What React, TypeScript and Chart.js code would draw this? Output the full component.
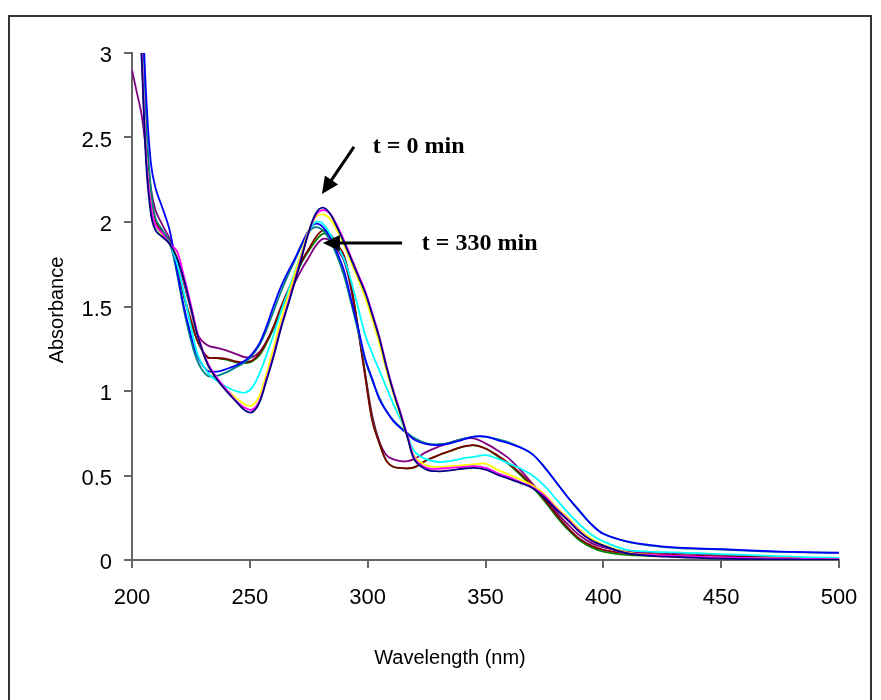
import React, { useEffect, useRef } from 'react';
import { Chart, registerables } from 'chart.js';
Chart.register(...registerables);

// Wavelength grid (nm)
const wavelengths = [200,202,204,206,208,210,213,216,219,222,
  225,228,232,236,240,244,248,251,254,257,
  260,263,266,269,272,275,278,281,284,287,
  290,293,296,299,302,305,308,311,314,317,
  320,325,330,335,340,345,350,355,360,365,
  370,375,380,385,390,395,400,410,420,430,
  440,450,460,470,480,490,500];

const navy = [4.2,3.6,3.0,2.35,2.05,1.95,1.91,1.87,1.79,1.66,
  1.49,1.32,1.16,1.07,1.0,0.94,0.885,0.875,0.93,1.06,
  1.2,1.36,1.5,1.64,1.79,1.94,2.05,2.085,2.05,1.97,
  1.88,1.78,1.68,1.58,1.45,1.31,1.14,0.99,0.86,0.72,
  0.59,0.535,0.525,0.53,0.54,0.545,0.535,0.505,0.48,0.455,
  0.425,0.37,0.3,0.235,0.165,0.115,0.085,0.04,0.025,0.018,
  0.012,0.008,0.005,0.004,0.003,0.002,0.002];

const magenta = [4.2,3.6,3.05,2.4,2.1,1.98,1.93,1.87,1.83,1.68,
  1.51,1.33,1.17,1.08,1.01,0.945,0.9,0.89,0.94,1.07,
  1.21,1.37,1.51,1.65,1.8,1.94,2.04,2.07,2.05,1.98,
  1.89,1.79,1.69,1.59,1.46,1.32,1.15,1.0,0.87,0.73,
  0.6,0.545,0.54,0.545,0.55,0.555,0.545,0.515,0.49,0.46,
  0.43,0.38,0.305,0.24,0.17,0.115,0.085,0.04,0.03,0.025,
  0.02,0.015,0.012,0.01,0.008,0.006,0.005];

const yellow = [4.2,3.6,3.05,2.4,2.1,1.98,1.92,1.87,1.8,1.66,
  1.49,1.32,1.16,1.07,1.01,0.96,0.92,0.915,0.97,1.1,
  1.25,1.41,1.55,1.69,1.82,1.95,2.03,2.045,2.02,1.95,
  1.86,1.76,1.66,1.55,1.42,1.28,1.12,0.98,0.85,0.72,
  0.61,0.56,0.55,0.555,0.56,0.565,0.57,0.535,0.505,0.475,
  0.44,0.39,0.315,0.25,0.18,0.125,0.09,0.045,0.03,0.022,
  0.018,0.014,0.012,0.01,0.008,0.006,0.005];

const cyan = [4.2,3.6,3.05,2.4,2.08,1.97,1.92,1.87,1.76,1.58,
  1.38,1.21,1.11,1.06,1.025,1.0,0.99,1.02,1.1,1.21,
  1.33,1.46,1.58,1.7,1.82,1.94,2.0,1.99,1.93,1.86,
  1.78,1.65,1.49,1.33,1.22,1.12,1.02,0.92,0.83,0.73,
  0.64,0.595,0.58,0.585,0.6,0.61,0.62,0.6,0.57,0.54,
  0.5,0.44,0.36,0.28,0.21,0.15,0.11,0.06,0.05,0.045,
  0.04,0.035,0.03,0.025,0.02,0.015,0.012];

const blue = [4.5,3.9,3.4,2.75,2.35,2.2,2.08,1.95,1.72,1.5,
  1.33,1.2,1.12,1.115,1.13,1.15,1.18,1.22,1.28,1.38,
  1.5,1.61,1.7,1.78,1.87,1.95,1.99,1.97,1.91,1.82,
  1.71,1.54,1.37,1.19,1.07,0.95,0.88,0.82,0.78,0.745,
  0.71,0.685,0.68,0.69,0.71,0.73,0.73,0.71,0.69,0.665,
  0.625,0.55,0.46,0.37,0.29,0.21,0.155,0.11,0.088,0.075,
  0.068,0.064,0.058,0.052,0.048,0.045,0.043];

const teal = [4.5,3.8,3.3,2.6,2.2,2.02,1.95,1.88,1.7,1.48,
  1.3,1.17,1.09,1.09,1.11,1.14,1.17,1.21,1.27,1.36,
  1.47,1.58,1.68,1.77,1.86,1.94,1.97,1.95,1.89,1.8,
  1.68,1.52,1.35,1.18,1.06,0.96,0.88,0.825,0.785,0.75,
  0.72,0.69,0.685,0.695,0.715,0.73,0.73,0.715,0.695,0.665,
  0.625,0.55,0.46,0.37,0.285,0.21,0.155,0.108,0.085,0.072,
  0.066,0.062,0.056,0.05,0.047,0.044,0.042];

const maroon = [4.2,3.6,3.05,2.4,2.1,2.0,1.94,1.88,1.75,1.57,
  1.42,1.29,1.2,1.195,1.19,1.175,1.17,1.18,1.22,1.29,
  1.38,1.49,1.59,1.68,1.77,1.84,1.91,1.95,1.93,1.87,
  1.8,1.62,1.36,1.08,0.82,0.69,0.585,0.55,0.545,0.542,
  0.55,0.59,0.62,0.645,0.67,0.68,0.66,0.62,0.57,0.51,
  0.44,0.36,0.27,0.19,0.125,0.085,0.06,0.04,0.035,0.03,
  0.025,0.022,0.02,0.017,0.014,0.012,0.01];

const green = [4.3,3.7,3.1,2.45,2.12,2.0,1.93,1.87,1.74,1.56,
  1.41,1.29,1.2,1.195,1.185,1.17,1.165,1.175,1.21,1.28,
  1.37,1.48,1.58,1.67,1.76,1.83,1.89,1.93,1.92,1.86,
  1.79,1.62,1.37,1.09,0.83,0.69,0.585,0.55,0.545,0.542,
  0.55,0.59,0.62,0.645,0.668,0.678,0.66,0.615,0.565,0.5,
  0.43,0.35,0.26,0.18,0.115,0.075,0.05,0.03,0.025,0.022,
  0.02,0.018,0.016,0.014,0.012,0.01,0.008];

const purple = [2.9,2.77,2.64,2.42,2.2,2.07,1.98,1.9,1.79,1.64,
  1.48,1.33,1.27,1.255,1.24,1.22,1.2,1.2,1.23,1.29,
  1.37,1.47,1.56,1.64,1.72,1.79,1.86,1.9,1.89,1.84,
  1.77,1.6,1.36,1.1,0.85,0.7,0.62,0.595,0.585,0.585,
  0.6,0.64,0.67,0.695,0.715,0.72,0.69,0.65,0.6,0.53,
  0.45,0.37,0.285,0.21,0.145,0.1,0.075,0.05,0.045,0.04,
  0.035,0.03,0.025,0.02,0.015,0.012,0.01];

const seriesList = [navy, magenta, yellow, cyan, blue, teal, maroon, green, purple];
const seriesColors = ['#000080', '#FF00FF', '#FFFF00', '#00FFFF', '#0000FF', '#008080', '#800000', '#008000', '#800080'];

const xTicks = [200, 250, 300, 350, 400, 450, 500];
const yTicks = [0, 0.5, 1, 1.5, 2, 2.5, 3];

// annotations in data coordinates: [fromX, fromY, toX, toY]
const arrowT0 = [294.2, 2.444, 280.6, 2.166];
const arrowT330 = [314.6, 1.876, 281.0, 1.876];
const labelT0 = { text: 't = 0 min', x: 302.2, y: 2.444 };
const labelT330 = { text: 't = 330 min', x: 323.0, y: 1.87 };

const SANS = '"Liberation Sans", Arial, sans-serif';
const SERIF = '"Liberation Serif", "Times New Roman", serif';

function drawArrow(ctx: CanvasRenderingContext2D, x1: number, y1: number, x2: number, y2: number) {
  const ang = Math.atan2(y2 - y1, x2 - x1);
  const headLen = 17;
  const headW = 8;
  const bx = x2 - headLen * Math.cos(ang);
  const by = y2 - headLen * Math.sin(ang);
  ctx.strokeStyle = '#000';
  ctx.lineWidth = 3;
  ctx.beginPath();
  ctx.moveTo(x1, y1);
  ctx.lineTo(bx + 2 * Math.cos(ang), by + 2 * Math.sin(ang));
  ctx.stroke();
  ctx.fillStyle = '#000';
  ctx.beginPath();
  ctx.moveTo(x2, y2);
  ctx.lineTo(bx + headW * Math.sin(ang), by - headW * Math.cos(ang));
  ctx.lineTo(bx - headW * Math.sin(ang), by + headW * Math.cos(ang));
  ctx.closePath();
  ctx.fill();
}

const annotationPlugin = {
  id: 'annotationPlugin',
  afterDraw(chart: any) {
    const { ctx, scales } = chart;
    const x = scales.x;
    const y = scales.y;
    ctx.save();
    ctx.fillStyle = '#000';
    ctx.font = '20px ' + SANS;
    ctx.textAlign = 'center';
    ctx.textBaseline = 'middle';
    ctx.fillText('Wavelength (nm)', 440, 641);
    ctx.save();
    ctx.translate(47, 293);
    ctx.rotate(-Math.PI / 2);
    ctx.fillText('Absorbance', 0, 0);
    ctx.restore();

    for (const a of [arrowT0, arrowT330]) {
      drawArrow(ctx, x.getPixelForValue(a[0]), y.getPixelForValue(a[1]), x.getPixelForValue(a[2]), y.getPixelForValue(a[3]));
    }
    ctx.font = 'bold 24px ' + SERIF;
    ctx.textAlign = 'left';
    ctx.fillStyle = '#000';
    for (const l of [labelT0, labelT330]) {
      ctx.fillText(l.text, x.getPixelForValue(l.x), y.getPixelForValue(l.y));
    }
    ctx.restore();
  },
};

export default function App() {
  const ref = useRef<HTMLCanvasElement>(null);
  useEffect(() => {
    const datasets = seriesList.map((s, i) => ({
      label: 'S' + i,
      data: wavelengths.map((w, j) => ({ x: w, y: s[j] })),
      borderColor: seriesColors[i],
      backgroundColor: seriesColors[i],
      borderWidth: 1.8,
      pointRadius: 0,
      fill: false,
      tension: 0.35,
    }));
    const tickFont = { family: SANS, size: 22 };
    const chart = new Chart(ref.current!, {
      type: 'line',
      data: { datasets },
      options: {
        responsive: false,
        animation: false,
        devicePixelRatio: 1,
        parsing: false as any,
        normalized: true,
        layout: { padding: { top: 36, right: 31, left: 0, bottom: 0 } },
        plugins: { legend: { display: false }, tooltip: { enabled: false } },
        scales: {
          x: {
            type: 'linear',
            min: 200,
            max: 500,
            afterBuildTicks: (s: any) => { s.ticks = xTicks.map((v) => ({ value: v })); },
            afterFit: (s: any) => { s.height = 140; s.paddingLeft = 0; s.paddingRight = 0; s.paddingTop = 0; s.paddingBottom = 0; },
            ticks: { color: '#000', font: tickFont, padding: 17, maxRotation: 0, callback: (v: any) => String(v) },
            grid: { drawOnChartArea: false, drawTicks: true, tickLength: 8, color: '#666', lineWidth: 2 },
            border: { display: true, color: '#666', width: 2 },
          },
          y: {
            type: 'linear',
            min: 0,
            max: 3,
            afterBuildTicks: (s: any) => { s.ticks = yTicks.map((v) => ({ value: v })); },
            afterFit: (s: any) => { s.width = 122; s.paddingLeft = 0; s.paddingRight = 0; s.paddingTop = 0; s.paddingBottom = 0; },
            ticks: { color: '#000', font: tickFont, padding: 12, labelOffset: 3, callback: (v: any) => String(v) },
            grid: { drawOnChartArea: false, drawTicks: true, tickLength: 8, color: '#666', lineWidth: 2 },
            border: { display: true, color: '#666', width: 2 },
          },
        },
      } as any,
      plugins: [annotationPlugin],
    });
    return () => chart.destroy();
  }, []);

  return (
    <div style={{ position: 'fixed', left: 0, top: 0, width: 881, height: 700, overflow: 'hidden', background: '#fff' }}>
      <div style={{ position: 'absolute', left: 8, top: 15, width: 864, height: 700, border: '2px solid #333', boxSizing: 'border-box' }}>
        <canvas ref={ref} width={860} height={683} style={{ position: 'absolute', left: 0, top: 0, width: 860, height: 683 }} />
      </div>
    </div>
  );
}
